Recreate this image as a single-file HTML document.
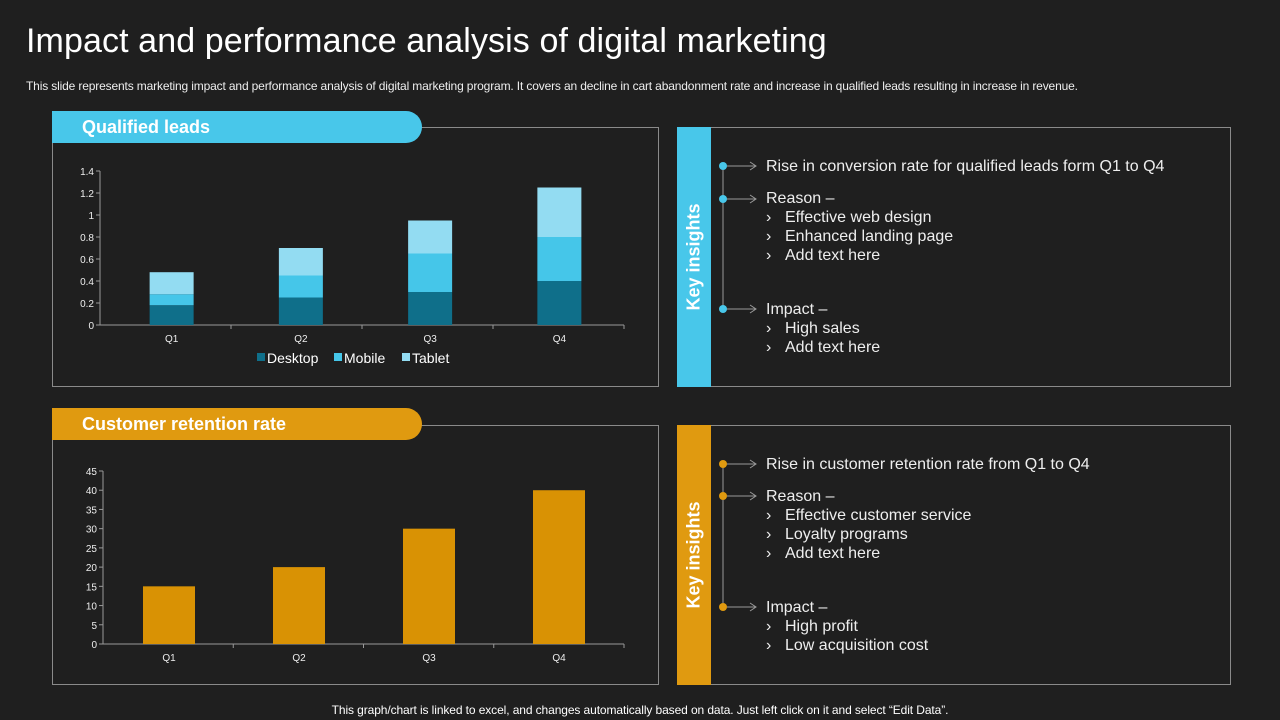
<!DOCTYPE html>
<html><head><meta charset="utf-8"><style>
body{margin:0;width:1280px;height:720px;background:#1f1f1f;font-family:"Liberation Sans",sans-serif;color:#fff;position:relative;overflow:hidden}
.abs{position:absolute}
h1{position:absolute;left:26px;top:22px;margin:0;font-weight:normal;font-size:34px;letter-spacing:0.1px}
.sub{left:26px;top:79px;font-size:12px;color:#eee;letter-spacing:-0.15px;white-space:nowrap}
.panel{position:absolute;border:1px solid #8a8a8a}
.pill{position:absolute;height:32px;border-radius:0 16px 16px 0;font-weight:bold;font-size:18px;line-height:32px;padding-left:30px;box-sizing:border-box}
.vbar{position:absolute;width:34px}
.vbar span{position:absolute;left:50%;top:50%;transform:translate(-50%,-50%) rotate(-90deg);white-space:nowrap;font-weight:bold;font-size:18px}
.ins{position:absolute;font-size:16px;line-height:19px;color:#eee}
.b{display:inline-block;width:19px}
.foot{left:0;width:1280px;text-align:center;top:703px;font-size:12px;letter-spacing:-0.1px}
</style></head><body>
<h1>Impact and performance analysis of digital marketing</h1>
<div class="abs sub">This slide represents marketing impact and performance analysis of digital marketing program. It covers an decline in cart abandonment rate and increase in qualified leads resulting in increase in revenue.</div>

<div class="panel" style="left:52px;top:127px;width:605px;height:258px"></div>
<div class="pill" style="left:52px;top:111px;width:370px;background:#48c7ea">Qualified leads</div>
<div class="panel" style="left:677px;top:127px;width:552px;height:258px"></div>
<div class="vbar" style="left:677px;top:127px;height:260px;background:#48c7ea"><span>Key insights</span></div>

<div class="panel" style="left:52px;top:425px;width:605px;height:258px"></div>
<div class="pill" style="left:52px;top:408px;width:370px;background:#e09a10">Customer retention rate</div>
<div class="panel" style="left:677px;top:425px;width:552px;height:258px"></div>
<div class="vbar" style="left:677px;top:425px;height:260px;background:#e09a10"><span>Key insights</span></div>

<svg class="abs" style="left:0;top:0" width="1280" height="720" id="svg">
<g stroke="#9a9a9a" fill="none">
<line x1="723" y1="166" x2="723" y2="309"/>
<line x1="723" y1="464" x2="723" y2="607"/>
</g>
</svg>

<div class="ins" style="left:766px;top:157px">Rise in conversion rate for qualified leads form Q1 to Q4</div>
<div class="ins" style="left:766px;top:189px">Reason –<br><span class="b">›</span>Effective web design<br><span class="b">›</span>Enhanced landing page<br><span class="b">›</span>Add text here</div>
<div class="ins" style="left:766px;top:300px">Impact –<br><span class="b">›</span>High sales<br><span class="b">›</span>Add text here</div>

<div class="ins" style="left:766px;top:455px">Rise in customer retention rate from Q1 to Q4</div>
<div class="ins" style="left:766px;top:487px">Reason –<br><span class="b">›</span>Effective customer service<br><span class="b">›</span>Loyalty programs<br><span class="b">›</span>Add text here</div>
<div class="ins" style="left:766px;top:598px">Impact –<br><span class="b">›</span>High profit<br><span class="b">›</span>Low acquisition cost</div>

<div class="abs foot">This graph/chart is linked to excel, and changes automatically based on data. Just left click on it and select “Edit Data”.</div>

<script>
const categories=["Q1","Q2","Q3","Q4"];
const desktop=[0.18,0.25,0.3,0.4];
const mobile=[0.1,0.2,0.35,0.4];
const tablet=[0.2,0.25,0.3,0.45];
const ticks1=[0,0.2,0.4,0.6,0.8,1,1.2,1.4];
const retention=[15,20,30,40];
const ticks2=[0,5,10,15,20,25,30,35,40,45];

const NS="http://www.w3.org/2000/svg";
const svg=document.getElementById('svg');
function mk(tag,attrs,parent){const e=document.createElementNS(NS,tag);for(const k in attrs)e.setAttribute(k,attrs[k]);(parent||svg).appendChild(e);return e;}

function axes(x0,x1,y0,yTop,max,ticks,prefix,cx0){
  const y=v=>y0-(v/max)*(y0-yTop);
  const bw=(x1-x0)/categories.length;
  const cbw=(x1-cx0)/categories.length;
  const cx=i=>cx0+cbw*(i+0.5);
  const ax=mk('line',{x1:x0,y1:y0,x2:x1,y2:y0,stroke:'#999'});
  
  
  const ay=mk('line',{x1:x0,y1:yTop,x2:x0,y2:y0,stroke:'#999'});
  
  
  ticks.forEach(t=>{
    mk('line',{x1:x0-4,y1:y(t),x2:x0,y2:y(t),stroke:'#999'});
    const tx=mk('text',{x:x0-6,y:y(t)+4,'text-anchor':'end','font-size':10,fill:'#eee'});
    tx.textContent=t;
    
    
  });
  categories.forEach((c,i)=>{
    mk('line',{x1:x0+bw*(i+1),y1:y0,x2:x0+bw*(i+1),y2:y0+4,stroke:'#999'});
    const tx=mk('text',{x:cx(i),y:y0+17,'text-anchor':'middle','font-size':10,fill:'#eee'});
    tx.textContent=c;
    
    
  });
  return {y,cx};
}

(function(){
  const x0=100,x1=624,y0=325;
  const a=axes(x0,x1,y0,171,1.4,ticks1,'leads',107);
  const series=[[desktop,'#0f6f8a','desktop'],[mobile,'#45c6e9','mobile'],[tablet,'#93dcf2','tablet']];
  categories.forEach((c,i)=>{
    let base=0;
    const cx=a.cx(i);
    series.forEach(([vals,col,nm])=>{
      const r=mk('rect',{x:cx-22,y:a.y(base+vals[i]),width:44,height:a.y(base)-a.y(base+vals[i]),fill:col});
      
      
      base+=vals[i];
    });
  });
  const leg=[['Desktop','#0f6f8a',257],['Mobile','#45c6e9',334],['Tablet','#93dcf2',402]];
  leg.forEach(([n,col,x])=>{
    const r=mk('rect',{x:x,y:353,width:8,height:8,fill:col});
    
    
    const t=mk('text',{x:x+10,y:363,'font-size':14,fill:'#fff'});
    t.textContent=n;
    
    
  });
})();

(function(){
  const x0=103,x1=624,y0=644;
  const a=axes(x0,x1,y0,471,45,ticks2,'retention',104);
  categories.forEach((c,i)=>{
    const cx=a.cx(i);
    const r=mk('rect',{x:cx-26,y:a.y(retention[i]),width:52,height:y0-a.y(retention[i]),fill:'#d99204'});
    
    
  });
})();

function dots(ys,col){
  ys.forEach(y=>{
    mk('line',{x1:723,y1:y,x2:756,y2:y,stroke:'#9a9a9a'});
    mk('polyline',{points:`750,${y-4} 756,${y} 750,${y+4}`,stroke:'#9a9a9a',fill:'none'});
    const c=mk('circle',{cx:723,cy:y,r:4,fill:col});
    
    
  });
}
dots([166,199,309],'#48c7ea');
dots([464,496,607],'#e09a10');
</script>
</body></html>
